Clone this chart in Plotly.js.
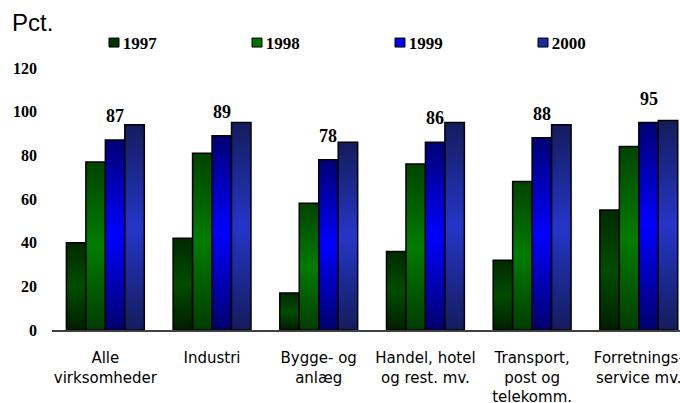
<!DOCTYPE html>
<html>
<head>
<meta charset="utf-8">
<script src="https://cdn.plot.ly/plotly-3.0.1.min.js"></script>
<style>html,body{margin:0;padding:0;background:#fff;}#chart{width:680px;height:403px;}</style>
</head>
<body>
<div id="chart"></div>
<script>
// ---- data ----
var categories = ['Alle<br>virksomheder', 'Industri', 'Bygge- og<br>anlæg', 'Handel, hotel<br>og rest. mv.', 'Transport,<br>post og<br>telekomm.', 'Forretnings-<br>service mv.'];
var seriesNames = ['1997', '1998', '1999', '2000'];
var values1997 = [40, 42, 17, 36, 32, 55];
var values1998 = [77, 81, 58, 76, 68, 84];
var values1999 = [87, 89, 78, 86, 88, 95];
var values2000 = [94, 95, 86, 95, 94, 96];
var yTicks = [0, 20, 40, 60, 80, 100, 120];

// ---- styles ----
var legendColors = ['#003300', '#007000', '#0000ee', '#1a2aa0'];
var gradStops = [
  ['#002a00', '#004c00', '#001e00'],
  ['#004400', '#007c00', '#003c00'],
  ['#000074', '#0000ff', '#00006c'],
  ['#141c5c', '#2436c8', '#141c5c']
];
var allValues = [values1997, values1998, values1999, values2000];

var traces = allValues.map(function (vals, i) {
  return {
    type: 'bar',
    name: seriesNames[i],
    x: categories,
    y: vals,
    marker: { color: legendColors[i], line: { color: '#000000', width: 1.5 } },
    hoverinfo: 'none'
  };
});

var labelAnnotations = values1999.map(function (v, i) {
  return {
    x: categories[i], y: v, xref: 'x', yref: 'y',
    text: String(v), showarrow: false,
    xanchor: 'center', yanchor: 'bottom',
    xshift: 9.7, yshift: 12,
    font: { family: 'Liberation Serif', size: 18, color: '#000', weight: 'bold' }
  };
});

var layout = {
  width: 680, height: 403,
  margin: { l: 52, r: 0, t: 68, b: 73, pad: 0 },
  paper_bgcolor: '#ffffff', plot_bgcolor: '#ffffff',
  barmode: 'group', bargap: 0.27, bargroupgap: 0,
  showlegend: true,
  legend: {
    orientation: 'h', xref: 'container', yref: 'container',
    x: 82.7 / 680, xanchor: 'left', y: 1 - 43 / 403, yanchor: 'middle',
    entrywidth: 98, entrywidthmode: 'pixels',
    font: { family: 'Liberation Serif', size: 17, color: '#000', weight: 'bold' },
    bgcolor: 'rgba(0,0,0,0)', traceorder: 'normal'
  },
  xaxis: {
    type: 'category', range: [-0.5, 5.386],
    showline: true, linecolor: '#404040', linewidth: 2,
    ticks: '', showgrid: false, zeroline: false,
    ticklabelstandoff: 13,
    tickfont: { family: 'DejaVu Sans', size: 15, color: '#000' }
  },
  yaxis: {
    range: [0, 120], tickvals: yTicks, ticktext: yTicks.map(String),
    showline: false, ticks: '', showgrid: false, zeroline: false,
    ticklabelstandoff: 14,
    tickfont: { family: 'Liberation Serif', size: 16, color: '#000', weight: 'bold' }
  },
  annotations: labelAnnotations.concat([{
    xref: 'paper', yref: 'paper', x: (10.2 - 52) / 628, y: 1 + (68 - 22) / 262,
    xanchor: 'left', yanchor: 'middle', showarrow: false, text: 'Pct.',
    font: { family: 'Liberation Sans', size: 24, color: '#000' }
  }])
};

function decorate() {
  var gd = document.getElementById('chart');
  var svg = gd.querySelector('svg.main-svg');
  var defs = svg.querySelector('defs');
  var NS = 'http://www.w3.org/2000/svg';
  gradStops.forEach(function (stops, i) {
    var lg = document.createElementNS(NS, 'linearGradient');
    lg.setAttribute('id', 'bargrad' + i);
    lg.setAttribute('x1', '0'); lg.setAttribute('y1', '0');
    lg.setAttribute('x2', '0'); lg.setAttribute('y2', '1');
    [[0, stops[0]], [0.5, stops[1]], [1, stops[2]]].forEach(function (s) {
      var st = document.createElementNS(NS, 'stop');
      st.setAttribute('offset', s[0]);
      st.setAttribute('stop-color', s[1]);
      lg.appendChild(st);
    });
    defs.appendChild(lg);
  });
  var barTraces = gd.querySelectorAll('.barlayer .trace.bars');
  barTraces.forEach(function (t, i) {
    t.querySelectorAll('.point path').forEach(function (p) {
      p.style.fill = 'url(#bargrad' + i + ')';
    });
  });
  // legend symbols: smaller squares placed just before the text
  gd.querySelectorAll('.legend .traces').forEach(function (tr) {
    var txt = tr.querySelector('text.legendtext');
    var tx = txt ? parseFloat(txt.getAttribute('x')) : 40;
    tr.querySelectorAll('.legendpoints path').forEach(function (p) {
      p.setAttribute('d', 'M5,4.5H-5V-4.5H5Z');
      p.setAttribute('transform', 'translate(' + (tx - 8.7) + ',0)');
      p.style.strokeWidth = '1px';
    });
  });
}

Plotly.newPlot('chart', traces, layout, { displayModeBar: false, staticPlot: true }).then(decorate);
</script>
</body>
</html>
